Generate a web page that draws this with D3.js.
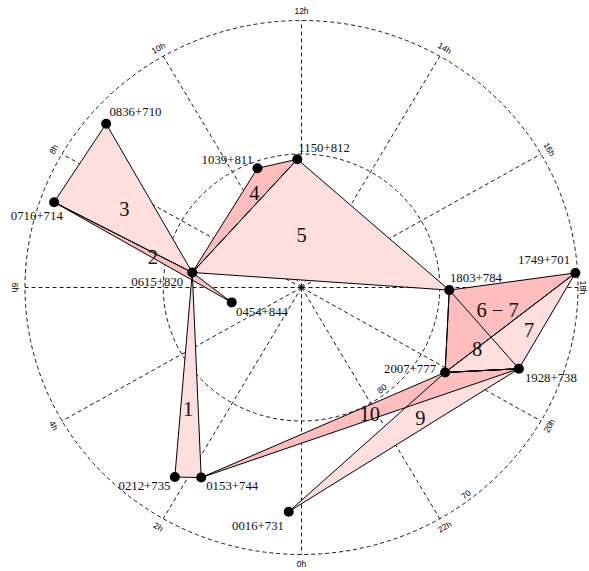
<!DOCTYPE html>
<html><head><meta charset="utf-8">
<script src="https://cdn.jsdelivr.net/npm/d3@7"></script>
<style>html,body{margin:0;padding:0;background:#fff;overflow:hidden}</style>
</head><body>
<svg id="chart" width="589" height="571"></svg>
<script>
// ---- data ----
const sources = ["0016+731","0153+744","0212+735","0454+844","0615+820","0716+714","0836+710",
                 "1039+811","1150+812","1749+701","1803+784","1928+738","2007+777"];
const raHours = [0.21, 1.80, 2.19, 5.17, 6.54, 7.31, 8.73, 10.69, 11.88, 17.79, 18.07, 19.41, 20.10];
const decDeg  = [73.18, 74.02, 73.11, 84.83, 82.02, 71.00, 71.29, 80.52, 80.39, 70.16, 79.31, 73.14, 77.82];

// triangles in drawing order
const triangleLabels = ["1","2","3","4","5","8","6 − 7","7","9","10"];
const triangleVertices = [
  ["0615+820","0212+735","0153+744"],
  ["0615+820","0716+714","0454+844"],
  ["0615+820","0716+714","0836+710"],
  ["0615+820","1039+811","1150+812"],
  ["0615+820","1150+812","1803+784"],
  ["1803+784","2007+777","1928+738"],
  ["1803+784","1749+701","2007+777"],
  ["1749+701","1928+738","2007+777"],
  ["2007+777","1928+738","0016+731"],
  ["0153+744","2007+777","1928+738"]
];
const triangleShade = ["light","medium","light","medium","light","medium","medium","light","light","medium"];
const triangleLabelRA  = [2.795, 6.813, 7.643, 10.291, 12.014, 19.324, 18.452, 18.738, 21.25, 22.169];
const triangleLabelDec = [77.72, 79.01, 75.90, 82.11, 86.10, 76.50, 75.72, 73.23, 76.97, 79.30];

const hourTicks = [0,2,4,6,8,10,12,14,16,18,20,22];
const hourTickLabels = ["0h","2h","4h","6h","8h","10h","12h","14h","16h","18h","20h","22h"];
const decTicks = [80, 70];
const decTickLabels = ["80","70"];

// ---- layout / style ----
const W = 589, H = 571;
const cx = 301.5, cy = 287.5;
const shadeColor = {light: "#FFDEDE", medium: "#FFBEBE"};
// label placement per source: [anchor, dx, dy]
const srcLabelPlace = {
  "0016+731": ["end", -4.7, 18.3],
  "0153+744": ["start", 5, 12.5],
  "0212+735": ["end", -4.3, 13],
  "0454+844": ["start", 4.3, 13.4],
  "0615+820": ["end", -9, 13.5],
  "0716+714": ["end", 8.7, 18.2],
  "0836+710": ["start", 3.3, -7.5],
  "1039+811": ["end", -4.3, -4.3],
  "1150+812": ["start", 1, -7.6],
  "1749+701": ["end", -5.3, -8.7],
  "1803+784": ["start", 0.7, -7.7],
  "1928+738": ["start", 6, 13.2],
  "2007+777": ["end", -9, 1]
};

const rx = d3.scaleLinear().domain([90, 70]).range([0, 276.5]);
const ry = d3.scaleLinear().domain([90, 70]).range([0, 267]);
const ang = d3.scaleLinear().domain([0, 24]).range([0, 2 * Math.PI]);

function pos(ra, dec) {
  const t = ang(ra);
  return [cx - rx(dec) * Math.sin(t), cy + ry(dec) * Math.cos(t)];
}
const srcPos = {};
sources.forEach((s, i) => srcPos[s] = pos(raHours[i], decDeg[i]));

const svg = d3.select("#chart");
svg.append("rect").attr("width", W).attr("height", H).attr("fill", "#fff");

// ---- grid ----
const grid = svg.append("g").attr("fill", "none").attr("stroke", "#000")
  .attr("stroke-width", 0.9).attr("stroke-dasharray", "4,3");
grid.selectAll("line.spoke").data(hourTicks).join("line")
  .attr("x1", cx).attr("y1", cy)
  .attr("x2", h => pos(h, 70)[0]).attr("y2", h => pos(h, 70)[1]);
grid.selectAll("ellipse").data(decTicks).join("ellipse")
  .attr("cx", cx).attr("cy", cy)
  .attr("rx", d => rx(d)).attr("ry", d => ry(d));

// hour labels (kept inside the picture)
svg.append("g").selectAll("text").data(hourTicks).join("text")
  .attr("transform", (h) => {
    const p = pos(h, 69.3);
    const x = Math.max(12, Math.min(W - 6, p[0]));
    let rot = h * 15 - 180;
    if (rot > 90) rot -= 180;
    if (rot <= -90) rot += 180;
    return `translate(${x},${p[1]}) rotate(${rot})`;
  })
  .attr("text-anchor", "middle").attr("dominant-baseline", "central")
  .attr("font-family", "Liberation Sans, Arial, sans-serif").attr("font-size", 8.5)
  .attr("fill", "#000")
  .text((h, i) => hourTickLabels[i]);

// radial labels
svg.append("g").selectAll("text").data(decTicks).join("text")
  .attr("transform", (d) => {
    const p = pos(21.5, d + 0.45);
    return `translate(${p[0]},${p[1]}) rotate(-37)`;
  })
  .attr("text-anchor", "middle").attr("dominant-baseline", "central")
  .attr("font-family", "Liberation Sans, Arial, sans-serif").attr("font-size", 8.5)
  .attr("fill", "#000")
  .text((d, i) => decTickLabels[i]);

// ---- triangles ----
const line = d3.line().curve(d3.curveLinearClosed);
const triPts = triangleVertices.map(v => v.map(s => srcPos[s]));
svg.append("g").selectAll("path").data(triPts).join("path")
  .attr("d", d => line(d))
  .attr("fill", (d, i) => shadeColor[triangleShade[i]])
  .attr("stroke", "none");
svg.append("g").selectAll("path").data(triPts).join("path")
  .attr("d", d => line(d))
  .attr("fill", "none").attr("stroke", "#000").attr("stroke-width", 1)
  .attr("stroke-linejoin", "round");

// triangle labels
svg.append("g").selectAll("text").data(triangleLabels).join("text")
  .attr("x", (d, i) => pos(triangleLabelRA[i], triangleLabelDec[i])[0])
  .attr("y", (d, i) => pos(triangleLabelRA[i], triangleLabelDec[i])[1])
  .attr("text-anchor", "middle").attr("dominant-baseline", "central")
  .attr("font-family", "Liberation Serif, Times New Roman, serif").attr("font-size", 20.5)
  .attr("fill", "#111")
  .text(d => d);

// ---- points ----
svg.append("g").selectAll("circle").data(sources).join("circle")
  .attr("cx", s => srcPos[s][0]).attr("cy", s => srcPos[s][1])
  .attr("r", 5).attr("fill", "#000");

svg.append("g").selectAll("text").data(sources).join("text")
  .attr("x", s => srcPos[s][0] + srcLabelPlace[s][1])
  .attr("y", s => srcPos[s][1] + srcLabelPlace[s][2])
  .attr("text-anchor", s => srcLabelPlace[s][0])
  .attr("font-family", "Liberation Serif, Times New Roman, serif").attr("font-size", 12.8)
  .attr("fill", "#111")
  .text(s => s);
</script>
</body></html>
